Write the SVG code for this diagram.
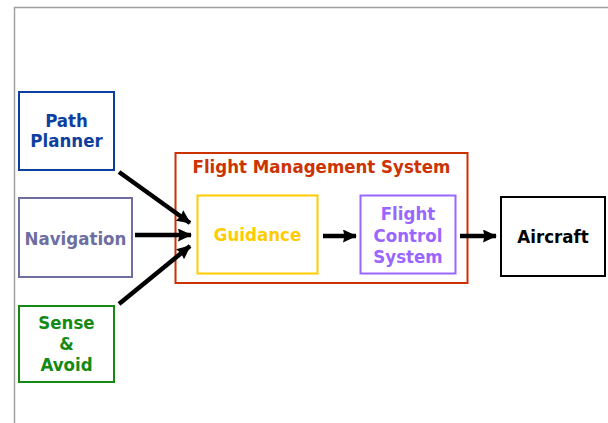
<svg xmlns="http://www.w3.org/2000/svg" width="608" height="423" viewBox="0 0 608 423">
<defs>
<style>
text{font-family:"DejaVu Sans Condensed","DejaVu Sans","Liberation Sans",sans-serif;font-weight:bold;font-size:18.5px;text-anchor:middle}
rect{fill:none;stroke-width:2}
.conn line{stroke:#000;stroke-width:4.5}
</style>
<marker id="ah" viewBox="0 0 14 13" refX="13" refY="6.5" markerWidth="14" markerHeight="13" markerUnits="userSpaceOnUse" orient="auto">
<path d="M0,0 L14,6.5 L0,13 L1.5,6.5 Z" fill="#000"/>
</marker>
</defs>
<rect width="608" height="423" fill="#fff" stroke="none"/>
<path d="M14.5,423 V7.5 H608" fill="none" stroke="#a0a0a0" stroke-width="1.5"/>
<g id="fms">
<rect x="175.5" y="153" width="292" height="130" stroke="#cc3300"/>
<text x="321.5" y="172.5" fill="#cc3300">Flight Management System</text>
</g>
<g id="path-planner">
<rect x="19" y="92" width="95" height="78" stroke="#0d3fa0"/>
<text x="66.5" y="127" fill="#0d3fa0">Path</text>
<text x="66.5" y="147" fill="#0d3fa0">Planner</text>
</g>
<g id="navigation">
<rect x="19" y="198" width="113" height="79" stroke="#6e6ea0"/>
<text x="75.5" y="245" fill="#6e6ea0">Navigation</text>
</g>
<g id="sense-avoid">
<rect x="19" y="306" width="95" height="76" stroke="#148a14"/>
<text x="66.5" y="328.5" fill="#148a14">Sense</text>
<text x="66.5" y="349.5" fill="#148a14">&amp;</text>
<text x="66.5" y="370.5" fill="#148a14">Avoid</text>
</g>
<g id="guidance">
<rect x="197.5" y="195.5" width="120" height="78" stroke="#ffcc00"/>
<text x="257.5" y="241" fill="#ffcc00">Guidance</text>
</g>
<g id="fcs">
<rect x="360.5" y="195.5" width="95" height="78" stroke="#9966ff"/>
<text x="408" y="220" fill="#9966ff">Flight</text>
<text x="408" y="241.5" fill="#9966ff">Control</text>
<text x="408" y="262.5" fill="#9966ff">System</text>
</g>
<g id="aircraft">
<rect x="501" y="197" width="104" height="79" stroke="#000"/>
<text x="553" y="243" fill="#000">Aircraft</text>
</g>
<g class="conn" id="connectors">
<line x1="119" y1="172" x2="190" y2="223" marker-end="url(#ah)"/>
<line x1="135" y1="235" x2="191" y2="235" marker-end="url(#ah)"/>
<line x1="119" y1="304" x2="190" y2="246" marker-end="url(#ah)"/>
<line x1="323" y1="236" x2="356" y2="236" marker-end="url(#ah)"/>
<line x1="460" y1="236" x2="496" y2="236" marker-end="url(#ah)"/>
</g>
</svg>
